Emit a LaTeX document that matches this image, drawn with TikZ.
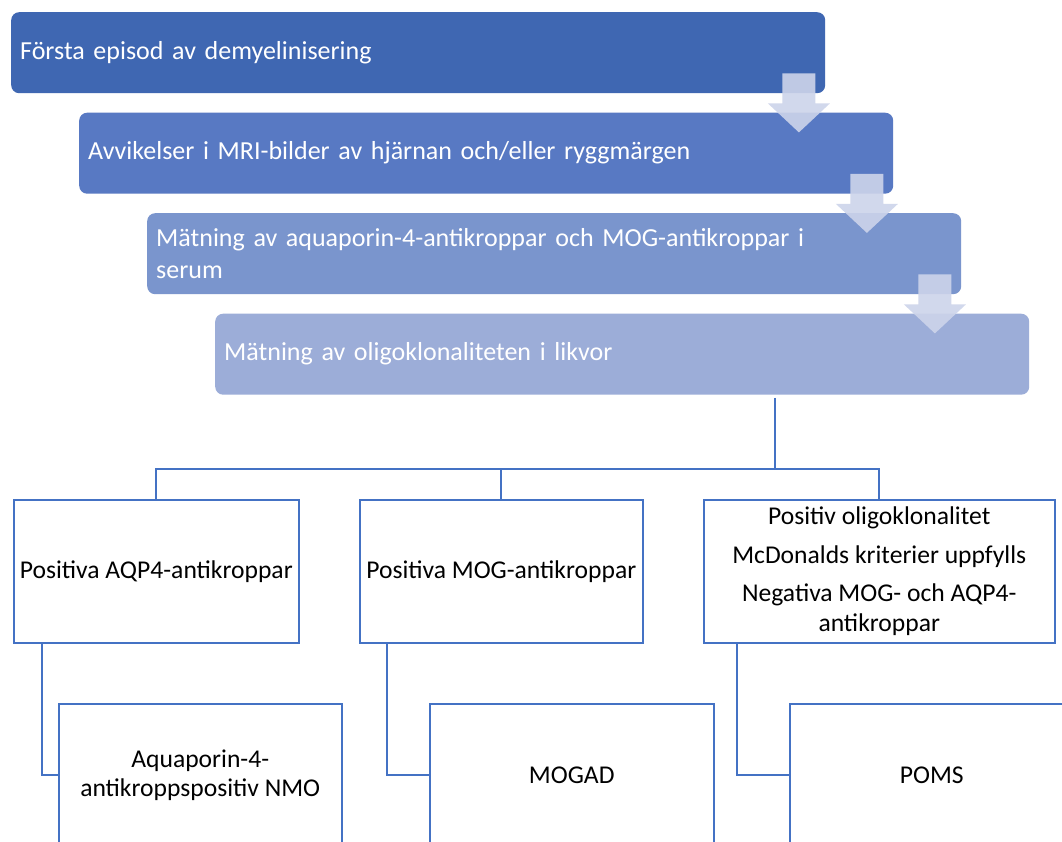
\documentclass[tikz,border=0pt]{standalone}
\usepackage{fontspec}
\setmainfont{Carlito}
\usetikzlibrary{calc}
\definecolor{cA}{HTML}{3F67B2}
\definecolor{cB}{HTML}{5879C3}
\definecolor{cC}{HTML}{7A95CD}
\definecolor{cD}{HTML}{9CADD8}
\definecolor{arr}{HTML}{CDD4EA}
\definecolor{ln}{HTML}{4472C4}
\begin{document}
\begin{tikzpicture}[x=1pt,y=-1pt,
 stepbox/.style={anchor=north west, rounded corners=8pt, minimum width=814pt, minimum height=81pt,
   inner xsep=9pt, inner ysep=0pt, text width=796pt, align=left, text=white,
   font=\fontsize{26}{32}\selectfont},
 leafbox/.style={anchor=north west, draw=ln, line width=1.5pt, fill=white, minimum height=143pt,
   inner sep=4pt, align=center, text=black, font=\fontsize{25.6}{29.5}\selectfont},
 conn/.style={draw=ln, line width=2pt},
 flowarrow/.style={fill=arr, fill opacity=0.9}]
\clip (0,0) rectangle (1062,842);
\fill[white] (0,0) rectangle (1062,842);

% step boxes
\node[stepbox, fill=cA] (b1) at (11,12) {Första episod av demyelinisering};
\node[stepbox, fill=cB] (b2) at (79,112.5) {Avvikelser i MRI-bilder av hjärnan och/eller ryggmärgen};
\node[stepbox, fill=cC] (b3) at (147,213) {Mätning av aquaporin-4-antikroppar och MOG-antikroppar i\\serum};
\node[stepbox, fill=cD] (b4) at (215,313.5) {Mätning av oligoklonaliteten i likvor};

% flow arrows
\foreach \b in {b1,b2,b3}{
  \coordinate (a) at ($(\b.south east)+(-26.5,-20)$);
  \fill[flowarrow] (a) ++(-16.5,0) -- ++(33,0) -- ++(0,30) -- ++(14.5,0) -- ++(-31,29)
     -- ++(-31,-29) -- ++(14.5,0) -- cycle;
}

% second level
\node[leafbox, minimum width=285pt] (p1) at (13,499) {Positiva AQP4-antikroppar};
\node[leafbox, minimum width=283pt] (p2) at (359,499) {Positiva MOG-antikroppar};
\node[leafbox, minimum width=351pt] (p3) at (703,499) {Positiv oligoklonalitet\\[9pt]McDonalds kriterier uppfylls\\[9pt]Negativa MOG- och AQP4-\\antikroppar};

% third level
\node[leafbox, minimum width=283pt] (d1) at (58,703) {Aquaporin-4-\\antikroppspositiv NMO};
\node[leafbox, minimum width=284pt] (d2) at (429,703) {MOGAD};
\node[leafbox, minimum width=284pt] (d3) at (789,703) {POMS};

% tree connectors
\coordinate (hub) at (775,469);
\draw[conn] ($(b4.south -| hub)+(0,3)$) -- (hub);
\draw[conn] (p1.north) |- (hub);
\draw[conn] (p2.north) |- (hub);
\draw[conn] (p3.north) |- (hub);
\draw[conn] ($(p1.south west)+(29,0)$) |- (d1.west);
\draw[conn] ($(p2.south west)+(28,0)$) |- (d2.west);
\draw[conn] ($(p3.south west)+(34,0)$) |- (d3.west);
\end{tikzpicture}
\end{document}
